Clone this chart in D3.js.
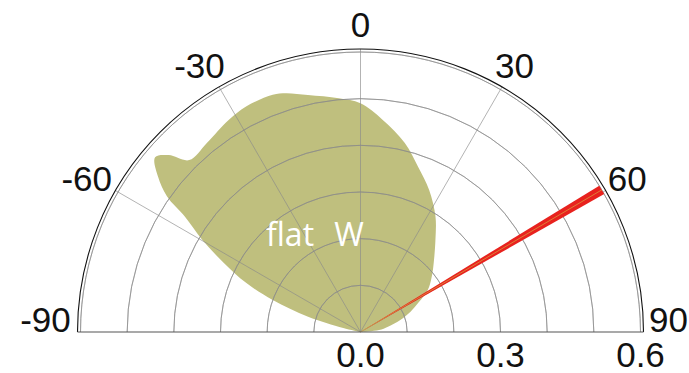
<!DOCTYPE html>
<html>
<head>
<meta charset="utf-8">
<script src="https://cdn.jsdelivr.net/npm/d3@7"></script>
<style>
  body { margin: 0; background: white; }
  .tick { font-family: "Liberation Sans", Arial, sans-serif; font-size: 35px; fill: #111; }
  .anno { font-family: "Open Sans", sans-serif; font-size: 32px; fill: white; word-spacing: 12px; }
</style>
</head>
<body>
<div id="graf"></div>
<script>
// Datos
const blobAngles = [-85, -77, -73.8, -70, -66.8, -63.2, -59.8, -56.7, -55, -52.5, -49.6, -47.3, -44.9, -39.1,
  -31.8, -26.9, -20.3, -17.3, -12.5, -5.3, 0, 6, 13.2, 19.2, 25.8, 33, 39.2, 48, 53, 58, 63, 68, 73, 79, 84, 88]
const blobRadii = [0, 0.038, 0.117, 0.2, 0.266, 0.328, 0.392, 0.45, 0.506, 0.547, 0.578, 0.559, 0.52, 0.522,
  0.535, 0.542, 0.542, 0.536, 0.52, 0.503, 0.49, 0.457, 0.416, 0.375, 0.338, 0.295, 0.254, 0.21, 0.19, 0.17, 0.14, 0.115, 0.09, 0.06, 0.04, 0]

const redAngles = [58.5, 60.5]
const redCenter = 59.5
const redRadius = 0.6

const rings = [0.1, 0.2, 0.3, 0.4, 0.5, 0.6]
const spokes = [-60, -30, 0, 30, 60]
const angleTicks = [-90, -60, -30, 0, 30, 60, 90]
const radialTicks = [0.0, 0.3, 0.6]
const annotation = 'flat W'

// Dimensiones
const anchoTotal = 689
const altoTotal = 373
const cx = 360.5
const cy = 332

const svg = d3.select('#graf').append('svg')
  .attr('width', anchoTotal)
  .attr('height', altoTotal)

const g = svg.append('g').attr('transform', `translate(${cx}, ${cy})`)

// Escaladores
const r = d3.scaleLinear().domain([0, 0.6]).range([0, 280])
const rad = (d) => d * Math.PI / 180
const frameR = r(0.6) + 3

// Mancha
const blob = blobAngles.map((a, i) => ({ a, v: blobRadii[i] }))
const area = d3.areaRadial()
  .angle((d) => rad(d.a))
  .innerRadius(0)
  .outerRadius((d) => r(d.v))
  .curve(d3.curveCatmullRom.alpha(0.5))

g.append('path')
  .datum(blob)
  .attr('d', area)
  .attr('fill', '#bfbf7e')

// Rejilla
const grid = g.append('g')
  .attr('stroke', '#8a8a8a')
  .attr('stroke-opacity', 0.65)
  .attr('fill', 'none')

grid.selectAll('path.ring')
  .data(rings)
  .join('path')
  .attr('class', 'ring')
  .attr('d', (d) => d3.arc()({ innerRadius: r(d), outerRadius: r(d), startAngle: -Math.PI / 2, endAngle: Math.PI / 2 }))
  .attr('stroke-width', 1)

grid.selectAll('line')
  .data(spokes)
  .join('line')
  .attr('x1', 0).attr('y1', 0)
  .attr('x2', (d) => frameR * Math.sin(rad(d)))
  .attr('y2', (d) => -frameR * Math.cos(rad(d)))
  .attr('stroke-width', 1)

// Cuña roja
g.append('path')
  .attr('d', d3.arc()({ innerRadius: 0, outerRadius: r(redRadius), startAngle: rad(redAngles[0]), endAngle: rad(redAngles[1]) }))
  .attr('fill', '#e8221e')

g.append('line')
  .attr('x1', 0).attr('y1', 0)
  .attr('x2', r(redRadius) * Math.sin(rad(redCenter)))
  .attr('y2', -r(redRadius) * Math.cos(rad(redCenter)))
  .attr('stroke', '#d9a640')
  .attr('stroke-width', 0.7)

// Marco
g.append('path')
  .attr('d', d3.arc()({ innerRadius: frameR, outerRadius: frameR, startAngle: -Math.PI / 2, endAngle: Math.PI / 2 }))
  .attr('fill', 'none')
  .attr('stroke', '#111')
  .attr('stroke-width', 1.1)

g.append('line')
  .attr('x1', -frameR).attr('x2', frameR)
  .attr('y1', 0).attr('y2', 0)
  .attr('stroke', '#555')
  .attr('stroke-width', 1.2)

// Etiquetas angulares
const labelR = 308
g.selectAll('text.ang')
  .data(angleTicks)
  .join('text')
  .attr('class', 'tick ang')
  .attr('text-anchor', 'middle')
  .attr('dominant-baseline', (d) => Math.abs(d) === 90 ? 'auto' : 'central')
  .attr('x', (d) => labelR * Math.sin(rad(d)) + (d < 0 ? -7 : 0))
  .attr('y', (d) => Math.abs(d) === 90 ? 0 : -labelR * Math.cos(rad(d)))
  .text((d) => d)

// Etiquetas radiales
g.selectAll('text.rad')
  .data(radialTicks)
  .join('text')
  .attr('class', 'tick rad')
  .attr('text-anchor', 'middle')
  .attr('x', (d) => r(d))
  .attr('y', 35)
  .text((d) => d3.format('.1f')(d))

// Anotación
g.append('text')
  .attr('class', 'anno')
  .attr('x', 266 - cx)
  .attr('y', 246 - cy)
  .text(annotation)
</script>
</body>
</html>
